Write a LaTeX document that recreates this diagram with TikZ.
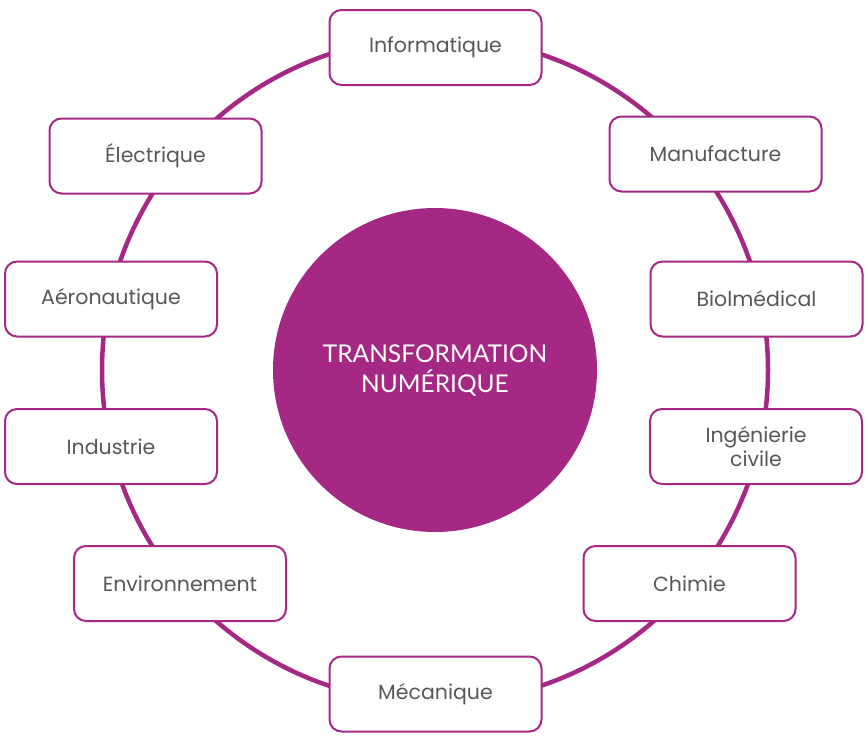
\documentclass[tikz,border=0pt]{standalone}
\usepackage{fontspec}
\setmainfont{Poppins}
\newfontfamily\centerfont{Lato}
\definecolor{magenta1}{RGB}{166,40,133}
\definecolor{txtgray}{RGB}{88,88,88}
\begin{document}
\begin{tikzpicture}[x=1pt,y=-1pt,
  area/.style={draw=magenta1, line width=2pt, fill=white, rounded corners=12pt,
    minimum width=212pt, minimum height=75pt, inner sep=0pt, align=center,
    text=txtgray, font=\fontsize{20.5}{24}\selectfont},
  ring/.style={draw=magenta1, line width=4.5pt}]
\useasboundingbox (0,0) rectangle (867,742);
\coordinate (c) at (435,370);
\draw[ring] (c) circle[radius=333pt];
\node[circle, fill=magenta1, minimum size=324pt, inner sep=0pt, text=white,
  align=center, font=\centerfont\fontsize{24.5}{30}\selectfont] (core) at (c)
  {TRANSFORMATION\\NUMÉRIQUE};
\node[area] (info) at (435.5,47.5) {Informatique};
\node[area] (manu) at (715.5,154) {Manufacture};
\node[area] (bio) at (756.5,299) {Biolmédical};
\node[area] (genie) at (756,446.5) {Ingénierie\\civile};
\node[area] (chim) at (689.5,583.5) {Chimie};
\node[area] (meca) at (435.5,694) {Mécanique};
\node[area] (env) at (180,583.5) {Environnement};
\node[area] (indu) at (111,446.5) {Industrie};
\node[area] (aero) at (111,299) {Aéronautique};
\node[area] (elec) at (155.5,156) {Électrique};
\end{tikzpicture}
\end{document}
